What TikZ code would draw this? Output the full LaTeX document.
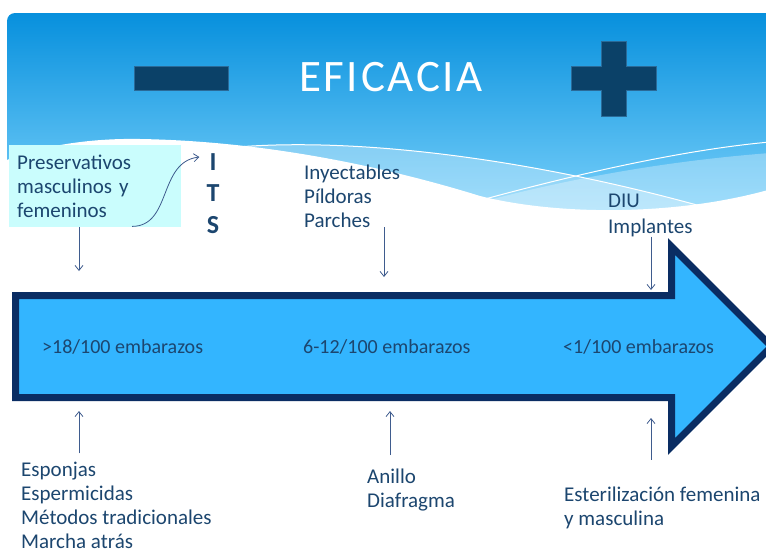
\documentclass[tikz,border=0pt]{standalone}
\usepackage{fontspec}
\setmainfont{Carlito}
\usetikzlibrary{arrows.meta}
\definecolor{hdrtop}{HTML}{0790DD}
\definecolor{hdrbot}{HTML}{83D6FD}
\definecolor{signnavy}{HTML}{0B4168}
\definecolor{signedge}{HTML}{2A6A98}
\definecolor{boxcyan}{HTML}{CAFDFD}
\definecolor{inkblue}{HTML}{1C466F}
\definecolor{ptrblue}{HTML}{3F5C8E}
\definecolor{arrowfill}{HTML}{33B5FF}
\definecolor{arrowedge}{HTML}{0A2D63}

\begin{document}
\begin{tikzpicture}[x=1pt,y=-1pt,
    txt/.style={inner sep=0pt,text=inkblue,align=left,font=\fontsize{21}{24}\selectfont},
    lbl/.style={txt,anchor=base west},
    rate/.style={inner sep=0pt,anchor=base west,text=inkblue,font=\fontsize{20}{24}\selectfont},
    its/.style={inner sep=0pt,text=inkblue,font=\fontsize{26}{30}\selectfont\bfseries},
    pointer/.style={->,ptrblue,line width=0.8pt,>={Straight Barb[length=5pt,width=8pt]}},
    sign/.style={fill=signnavy,draw=signedge,line width=0.8pt}]
    \useasboundingbox (0,0) rectangle (766,552);
    \fill[white] (0,0) rectangle (766,552);

    \shade[top color=hdrtop,bottom color=hdrbot,rounded corners=8pt]
        (7,230) -- (7,13) -- (790,13) -- (790,230) -- cycle; % header band
    \fill[white,opacity=0.3] (237,147) .. controls (350,138) and (520,155) .. (715,210)
        -- (715,240) -- (237,240) -- cycle;
    \fill[white,opacity=0.3] (470,205) .. controls (580,175) and (680,160) .. (770,153)
        -- (770,240) -- (470,240) -- cycle;
    \draw[white,line width=1pt] (237,147) .. controls (350,138) and (520,155) .. (715,210);
    \draw[white,line width=1pt] (485,199) .. controls (570,176) and (680,150) .. (770,142);
    \fill[white] (-5,162) -- (7,160) .. controls (40,146) and (90,138) .. (140,139)
        .. controls (260,141) and (380,165) .. (480,196)
        .. controls (560,216) and (680,216) .. (775,188) -- (775,260) -- (-5,260) -- cycle; % wave

    \filldraw[sign] (134,66) rectangle (228,90); % minus
    \filldraw[sign] (601,41) -- (626,41) -- (626,66) -- (656,66) -- (656,90) -- (626,90)
        -- (626,116) -- (601,116) -- (601,90) -- (571,90) -- (571,66) -- (601,66) -- cycle; % plus
    \node[inner sep=0pt,text=white,font=\fontsize{45}{50}\selectfont\addfontfeature{LetterSpace=6}]
        (title) at (391,77) {EFICACIA};

    % big arrow
    \draw[line width=7pt,draw=arrowedge,fill=arrowfill,miter limit=10]
        (15.5,295.5) -- (671.5,295.5) -- (671.5,246.5) -- (771.5,346.5) -- (671.5,446.5)
        -- (671.5,397.5) -- (15.5,397.5) -- cycle;
    \node[rate] (low) at (42,353) {>18/100 embarazos};
    \node[rate] (mid) at (303,353) {6-12/100 embarazos};
    \node[rate] (high) at (563,353) {<1/100 embarazos};

    \node[txt,anchor=north west,fill=boxcyan,minimum width=172pt,minimum height=82pt,
        inner xsep=8pt,text width=156pt] (pres) at (9,145) {Preservativos\\masculinos y\\femeninos};
    \node[its] (itsI) at (213,162) {I};
    \node[its] (itsT) at (213,193) {T};
    \node[its] (itsS) at (213,225) {S};
    \node[lbl] (inyec) at (304,227) {Inyectables\\Píldoras\\Parches};
    \node[lbl,font=\fontsize{21}{26}\selectfont] (diu) at (608,233) {DIU\\Implantes};
    \node[lbl] (espon) at (21,548) {Esponjas\\Espermicidas\\Métodos tradicionales\\Marcha atrás};
    \node[lbl] (anillo) at (367,507) {Anillo\\Diafragma};
    \node[lbl,font=\fontsize{21}{23.5}\selectfont] (ester) at (564,525) {Esterilización femenina\\y masculina};

    \draw[pointer] ([xshift=37pt,yshift=1pt]pres.south) .. controls (172,226) and (158,162)
        .. ([xshift=-10pt,yshift=5pt]itsI.west);

    \coordinate (tipA) at (79,271);
    \coordinate (tipB) at (384,277);
    \coordinate (tipC) at (651,290);
    \coordinate (tipD) at (79,411);
    \coordinate (tipE) at (390,411);
    \coordinate (tipF) at (651,418);
    \draw[pointer] (pres.south -| tipA) -- (tipA);
    \draw[pointer] (inyec.south -| tipB) -- (tipB);
    \draw[pointer] (diu.south -| tipC) -- (tipC);
    \draw[pointer,shorten <=8pt] (espon.north -| tipD) -- (tipD);
    \draw[pointer,shorten <=13pt] (anillo.north -| tipE) -- (tipE);
    \draw[pointer,shorten <=27pt] (ester.north -| tipF) -- (tipF);
\end{tikzpicture}
\end{document}
